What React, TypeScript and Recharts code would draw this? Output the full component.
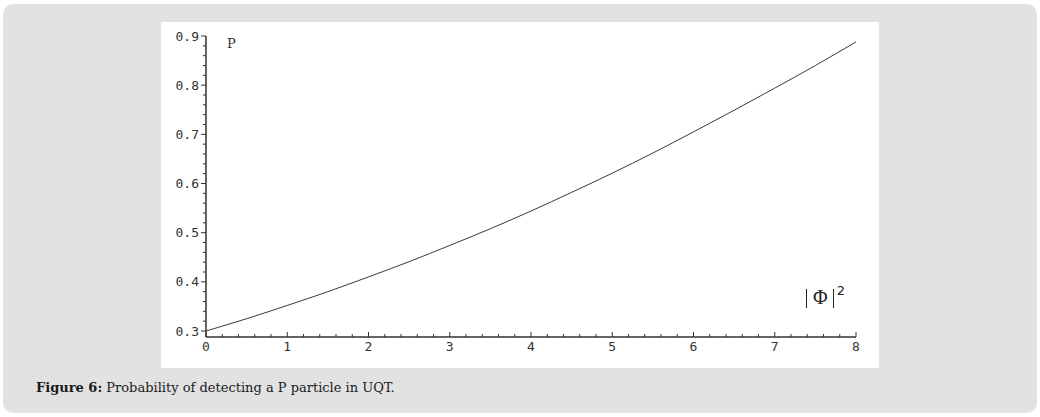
import { LineChart, Line, XAxis, YAxis } from "recharts";

// values
const phiSquared = [0, 0.5, 1, 1.5, 2, 2.5, 3, 3.5, 4, 4.5, 5, 5.5, 6, 6.5, 7, 7.5, 8];
const probability = [
  0.3, 0.325, 0.352, 0.38, 0.41, 0.441, 0.474, 0.508, 0.544, 0.582, 0.621, 0.662, 0.705, 0.749,
  0.794, 0.84, 0.888,
];

const xMajorTicks = [0, 1, 2, 3, 4, 5, 6, 7, 8];
const yMajorTicks = [0.3, 0.4, 0.5, 0.6, 0.7, 0.8, 0.9];

// minor ticks: 5 subdivisions between each pair of labelled ticks
const subdivide = (major: number[], digits: number) => {
  const out: number[] = [];
  for (let i = 0; i < major.length - 1; i++) {
    const step = (major[i + 1] - major[i]) / 5;
    for (let k = 0; k < 5; k++) out.push(Number((major[i] + k * step).toFixed(digits)));
  }
  out.push(major[major.length - 1]);
  return out;
};
const xTicks = subdivide(xMajorTicks, 1);
const yTicks = subdivide(yMajorTicks, 2);

const data = phiSquared.map((x, i) => ({ x, p: probability[i] }));

const isMajor = (list: number[], v: number) => list.some((m) => Math.abs(m - v) < 1e-6);
const tickFont = '"DejaVu Sans Mono", monospace';
const ink = "#333";

function YTick({ x, y, payload }: any) {
  const major = isMajor(yMajorTicks, payload.value);
  return (
    <g>
      <line x1={x - (major ? 5 : 3)} x2={x} y1={y} y2={y} stroke={ink} strokeWidth={1} />
      {major && (
        <text x={x - 7} y={y} dy={4.5} textAnchor="end" fontFamily={tickFont} fontSize={13} fill={ink}>
          {payload.value.toFixed(1)}
        </text>
      )}
    </g>
  );
}

function XTick({ x, y, payload }: any) {
  const major = isMajor(xMajorTicks, payload.value);
  return (
    <g>
      <line x1={x} x2={x} y1={y} y2={y - (major ? 5 : 3)} stroke={ink} strokeWidth={1} />
      {major && (
        <text x={x} y={y} dy={14} textAnchor="middle" fontFamily={tickFont} fontSize={13} fill={ink}>
          {payload.value}
        </text>
      )}
    </g>
  );
}

const bar = { display: "inline-block", width: 1, height: 19, background: "#222", verticalAlign: "-4px" };

export default function App() {
  return (
    <div style={{ position: "absolute", left: 0, top: 0, width: 1040, height: 417, background: "#fff" }}>
      <div
        style={{
          position: "absolute",
          left: 3,
          top: 4,
          width: 1034,
          height: 409,
          borderRadius: 10,
          background: "#e2e2e2",
        }}
      />
      <div style={{ position: "absolute", left: 161, top: 22, width: 718, height: 346, background: "#fff" }}>
        <LineChart width={718} height={346} data={data} margin={{ top: 14, right: 23, bottom: 30, left: 44 }}>
          <XAxis
            dataKey="x"
            type="number"
            domain={[0, 8]}
            ticks={xTicks}
            interval={0}
            height={1}
            tickSize={0}
            tickMargin={0}
            tickLine={false}
            tick={<XTick />}
            axisLine={{ stroke: ink, strokeWidth: 1.5 }}
          />
          <YAxis
            type="number"
            domain={[0.2878, 0.9]}
            ticks={yTicks}
            interval={0}
            width={1}
            tickSize={0}
            tickMargin={0}
            tickLine={false}
            tick={<YTick />}
            allowDataOverflow
            axisLine={{ stroke: ink, strokeWidth: 1.5 }}
          />
          <Line type="monotone" dataKey="p" stroke="#3a3a3a" strokeWidth={1} dot={false} isAnimationActive={false} />
        </LineChart>
        <div
          style={{
            position: "absolute",
            left: 66,
            top: 14,
            fontFamily: '"DejaVu Serif", serif',
            fontSize: 13,
            color: ink,
          }}
        >
          P
        </div>
        <div
          style={{
            position: "absolute",
            left: 645,
            top: 264,
            fontFamily: '"Liberation Serif", serif',
            fontSize: 20,
            lineHeight: "22px",
            color: "#222",
            whiteSpace: "nowrap",
          }}
        >
          <span style={bar} />
          <span style={{ margin: "0 5px 0 6px" }}>Φ</span>
          <span style={bar} />
          <span style={{ fontFamily: '"DejaVu Sans", sans-serif', fontSize: 13, position: "relative", top: -9, marginLeft: 3 }}>
            2
          </span>
        </div>
      </div>
      <div
        style={{
          position: "absolute",
          left: 36,
          top: 380,
          fontFamily: '"DejaVu Serif", serif',
          fontSize: 13,
          color: "#1a1a1a",
          whiteSpace: "nowrap",
        }}
      >
        <b>Figure 6:</b> Probability of detecting a P particle in UQT.
      </div>
    </div>
  );
}
